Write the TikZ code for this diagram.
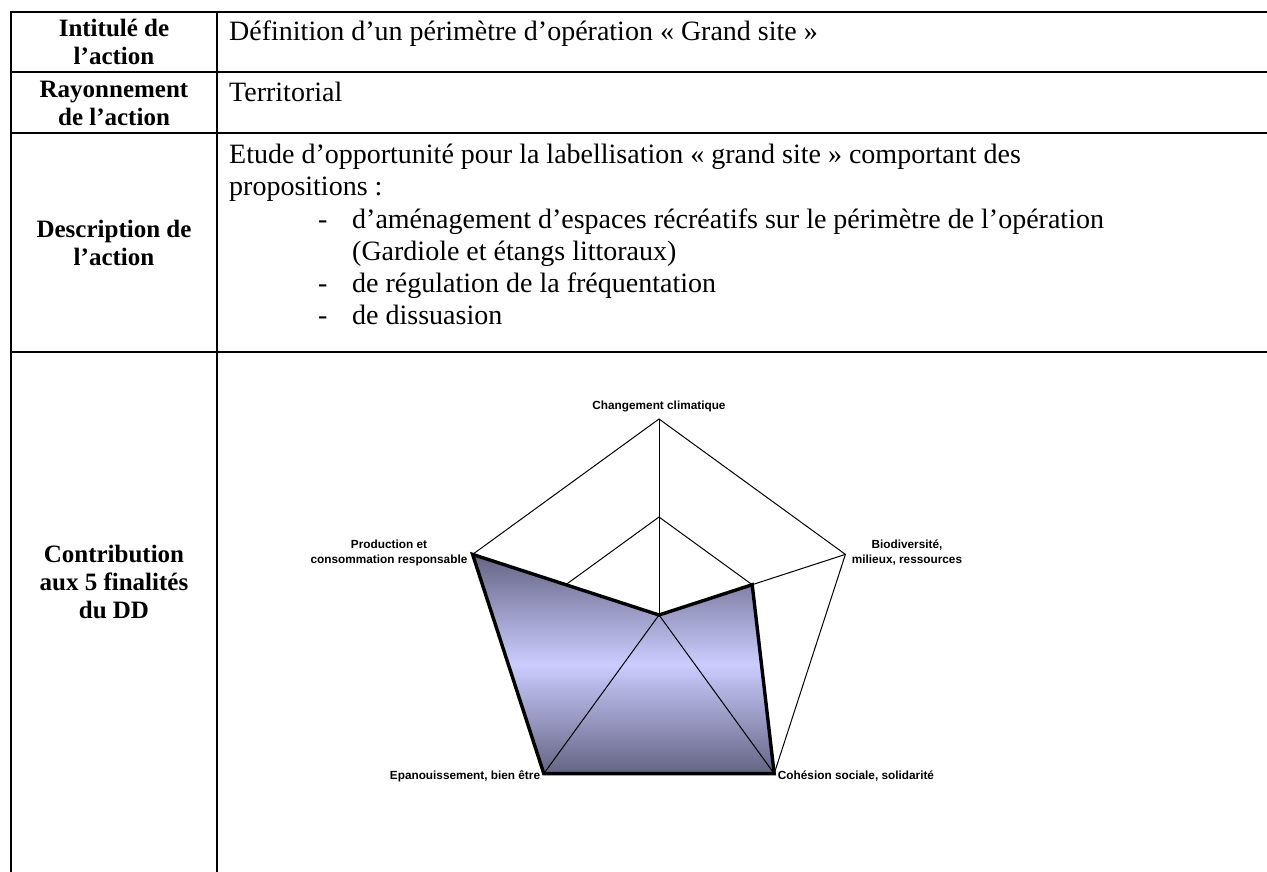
\documentclass[tikz,border=0pt]{standalone}
\usepackage{fontspec}
\setmainfont{Liberation Serif}
\newfontfamily\chartfont{Liberation Sans}
\usetikzlibrary{calc}
\definecolor{fdark}{RGB}{100,100,132}
\definecolor{flight}{RGB}{204,204,255}
\tikzset{
  tbl/.style={line width=2pt, line cap=rect},
  lab/.style={font=\bfseries\fontsize{25}{28}\selectfont, align=center, inner sep=0},
  body/.style={font=\fontsize{28}{32}\selectfont, anchor=base west, inner sep=0},
  clab/.style={font=\chartfont\bfseries\fontsize{11.8}{15}\selectfont, align=center, inner sep=0},
  grid/.style={line width=1pt, black},
  dataline/.style={line width=3.4pt, line join=miter, black}
}
\begin{document}
\begin{tikzpicture}[x=1pt,y=-1pt]
\useasboundingbox (0,0) rectangle (1267,872);
% table
\draw[tbl] (11,12) -- (1275,12);
\draw[tbl] (11,72) -- (1275,72);
\draw[tbl] (11,133) -- (1275,133);
\draw[tbl] (11,352) -- (1275,352);
\draw[tbl] (11,12) -- (11,880);
\draw[tbl] (217,12) -- (217,880);
% left column
\node[lab] (l1) at (114,42) {Intitulé de\\l’action};
\node[lab] (l2) at (114,103) {Rayonnement\\de l’action};
\node[lab] (l3) at (114,243) {Description de\\l’action};
\node[lab] (l4) at (114,582) {Contribution\\aux 5 finalités\\du DD};
% right column
\node[body] (t1) at (229,41) {Définition d’un périmètre d’opération « Grand site »};
\node[body] (t2) at (229,102) {Territorial};
\node[body] (d1) at (229,164) {Etude d’opportunité pour la labellisation « grand site » comportant des};
\node[body] (d2) at (229,196) {propositions :};
\node[body] (b1) at (318,228) {-};
\node[body] (d3) at (352,228) {d’aménagement d’espaces récréatifs sur le périmètre de l’opération};
\node[body] (d4) at (352,260) {(Gardiole et étangs littoraux)};
\node[body] (b2) at (318,292) {-};
\node[body] (d5) at (352,292) {de régulation de la fréquentation};
\node[body] (b3) at (318,324) {-};
\node[body] (d6) at (352,324) {de dissuasion};
% radar chart
\coordinate (C) at (659,615);
\coordinate (A1) at (659,419);
\coordinate (A2) at (845.4,554.4);
\coordinate (A3) at (774.2,773.6);
\coordinate (A4) at (543.8,773.6);
\coordinate (A5) at (472.6,554.4);
\foreach \i in {1,...,5} { \coordinate (H\i) at ($(C)!0.5!(A\i)$); }
\draw[grid] (A1) -- (A2) -- (A3) -- (A4) -- (A5) -- cycle;
\draw[grid] (H1) -- (H2) -- (H3) -- (H4) -- (H5) -- cycle;
\shade[top color=fdark, bottom color=fdark, middle color=flight]
  (C) -- (H2) -- (A3) -- (A4) -- (A5) -- cycle;
\foreach \i in {1,...,5} { \draw[grid] (C) -- (A\i); }
\draw[dataline] (C) -- (H2) -- (A3) -- (A4) -- (A5) -- cycle;
% chart labels
\node[clab] (c1) at (659,406) {Changement climatique};
\node[clab] (c2) at (907,553) {Biodiversité,\\milieux, ressources};
\node[clab] (c3) at (856,776) {Cohésion sociale, solidarité};
\node[clab] (c4) at (465,776) {Epanouissement, bien être};
\node[clab] (c5) at (389,553) {Production et\\consommation responsable};
\end{tikzpicture}
\end{document}
